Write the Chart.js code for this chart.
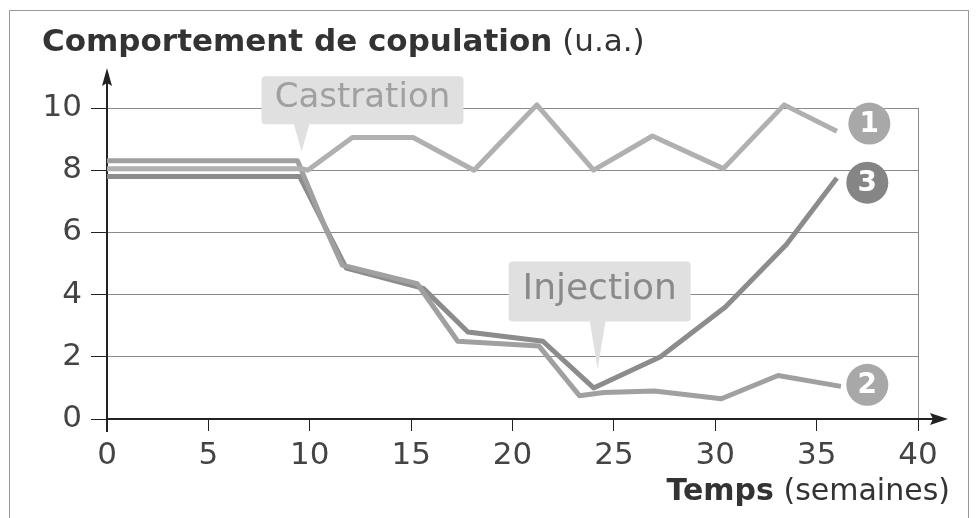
<!DOCTYPE html>
<html>
<head>
<meta charset="utf-8">
<script src="https://cdn.jsdelivr.net/npm/chart.js@4.4.0/dist/chart.umd.min.js"></script>
<style>
html, body { margin: 0; padding: 0; background: #fff; }
#wrap { position: relative; width: 976px; height: 518px; overflow: hidden; }
#frame { position: absolute; left: 9px; top: 10px; width: 958px; height: 540px; border: 1px solid #999; }
canvas { position: absolute; left: 0; top: 0; }
.ttl { position: absolute; font-family: "DejaVu Sans", sans-serif; color: #333; white-space: nowrap; line-height: 1.2; }
.ttl b { font-weight: 700; }
.ttl span { font-weight: 400; }
</style>
</head>
<body>
<div id="wrap">
  <div id="frame"></div>
  <canvas id="chart" width="976" height="518"></canvas>
  <div class="ttl" style="left:42px;top:22px;font-size:31px"><b>Comportement de copulation</b> <span>(u.a.)</span></div>
  <div class="ttl" style="right:26px;top:472px;font-size:30px"><b>Temps</b> <span>(semaines)</span></div>
</div>
<script>
// weeks (x) and behaviour score (y) for each curve
const weeks1 = [0, 9.6, 9.9, 12.1, 15.1, 18.1, 21.2, 24, 26.9, 30.4, 33.4, 36];
const values1 = [8.05, 8.05, 8.0, 9.05, 9.05, 8.0, 10.1, 8.0, 9.1, 8.05, 10.1, 9.25];

const weeks2 = [0, 9.4, 10.8, 11.6, 15.3, 17.3, 21.3, 23.3, 24.5, 27, 30.3, 33.1, 36.2];
const values2 = [8.3, 8.3, 6.1, 4.95, 4.35, 2.5, 2.35, 0.75, 0.85, 0.9, 0.65, 1.4, 1.05];

const weeks3 = [0, 9.5, 10.9, 11.8, 15.6, 17.8, 21.5, 24, 27.3, 30.5, 33.5, 36];
const values3 = [7.8, 7.8, 6.0, 4.85, 4.2, 2.8, 2.5, 1.0, 2.0, 3.6, 5.6, 7.75];

const xTicks = [0, 5, 10, 15, 20, 25, 30, 35, 40];
const yTicks = [0, 2, 4, 6, 8, 10];

// annotation boxes
const noteText = ['Castration', 'Injection'];
const noteX = [12.6, 24.3];
const noteY = [10.25, 4.1];
const noteTipX = [9.6, 24.2];
const noteTipY = [8.6, 1.6];

// circled curve numbers
const circleText = ['1', '2', '3'];
const circleX = [37.6, 37.5, 37.5];
const circleY = [9.5, 1.1, 7.6];

function toPoints(xs, ys) {
    return xs.map((x, i) => ({ x: x, y: ys[i] }));
}

const arrows = {
    id: 'arrows',
    afterDraw(chart) {
        const c = chart.ctx;
        const a = chart.chartArea;
        const y0 = chart.scales.y.getPixelForValue(0);
        const x0 = chart.scales.x.getPixelForValue(0);
        c.save();
        c.strokeStyle = '#222';
        c.fillStyle = '#222';
        c.lineWidth = 2;
        c.beginPath();
        c.moveTo(a.right, y0); c.lineTo(936, y0);
        c.moveTo(x0, a.top); c.lineTo(x0, 82);
        c.moveTo(x0, y0); c.lineTo(x0, y0 + 13);
        c.stroke();
        c.beginPath();
        c.moveTo(948, y0); c.lineTo(930, y0 - 6); c.lineTo(933, y0); c.lineTo(930, y0 + 6); c.closePath();
        c.fill();
        c.beginPath();
        c.moveTo(x0, 68); c.lineTo(x0 - 5, 86); c.lineTo(x0, 83); c.lineTo(x0 + 5, 86); c.closePath();
        c.fill();
        c.restore();
    }
};

const notes = {
    id: 'notes',
    afterDatasetsDraw(chart) {
        const c = chart.ctx;
        const sx = chart.scales.x, sy = chart.scales.y;
        c.save();
        // boxes with pointer
        const sizes = [[202, 48], [182, 60]];
        noteText.forEach((t, i) => {
            const cx = sx.getPixelForValue(noteX[i]);
            const cy = sy.getPixelForValue(noteY[i]);
            const w = sizes[i][0], h = sizes[i][1];
            const tx = sx.getPixelForValue(noteTipX[i]);
            const ty = sy.getPixelForValue(noteTipY[i]);
            c.fillStyle = '#e0e0e0';
            c.beginPath();
            c.roundRect(cx - w / 2, cy - h / 2, w, h, 4);
            c.fill();
            c.beginPath();
            c.moveTo(tx - 8, cy + h / 2 - 1);
            c.lineTo(tx + 8, cy + h / 2 - 1);
            c.lineTo(tx, ty);
            c.closePath();
            c.fill();
            c.fillStyle = i === 0 ? '#a0a0a0' : '#8a8a8a';
            c.font = (i === 0 ? '34px' : '36px') + ' "DejaVu Sans", sans-serif';
            c.textAlign = 'center';
            c.textBaseline = 'middle';
            c.fillText(t, cx, cy - 2);
        });
        // circled numbers
        circleText.forEach((t, i) => {
            const cx = sx.getPixelForValue(circleX[i]);
            const cy = sy.getPixelForValue(circleY[i]);
            c.fillStyle = t === '3' ? '#858585' : '#a8a8a8';
            c.beginPath();
            c.arc(cx, cy, 21, 0, Math.PI * 2);
            c.fill();
            c.fillStyle = '#fff';
            c.font = 'bold 28px "DejaVu Sans", sans-serif';
            c.textAlign = 'center';
            c.textBaseline = 'middle';
            c.fillText(t, cx, cy + 1);
        });
        c.restore();
    }
};

const ctx = document.getElementById('chart').getContext('2d');
new Chart(ctx, {
    type: 'scatter',
    data: {
        datasets: [
            { data: toPoints(weeks1, values1), borderColor: '#b0b0b0' },
            { data: toPoints(weeks2, values2), borderColor: '#a0a0a0' },
            { data: toPoints(weeks3, values3), borderColor: '#8c8c8c' }
        ].map(d => Object.assign(d, {
            showLine: true,
            borderWidth: 5,
            pointRadius: 0,
            tension: 0,
            clip: 10,
            borderJoinStyle: 'round'
        }))
    },
    options: {
        responsive: false,
        animation: false,
        devicePixelRatio: 1,
        layout: { padding: { left: 0, top: 108, right: 58, bottom: 35 } },
        plugins: { legend: { display: false }, tooltip: { enabled: false } },
        scales: {
            x: {
                type: 'linear',
                min: xTicks[0],
                max: xTicks[xTicks.length - 1],
                afterBuildTicks: s => { s.ticks = xTicks.map(v => ({ value: v })); },
                afterFit: s => { s.height = 64; },
                border: { color: '#222', width: 2 },
                grid: {
                    color: g => (g.tick && g.tick.value === 40) ? '#8a8a8a' : 'rgba(0,0,0,0)',
                    tickColor: '#222',
                    tickLength: 12,
                    lineWidth: 1
                },
                ticks: {
                    color: '#444',
                    padding: 6,
                    maxRotation: 0,
                    font: { family: 'DejaVu Sans', size: 31, weight: '400' }
                }
            },
            y: {
                min: yTicks[0],
                max: yTicks[yTicks.length - 1],
                afterBuildTicks: s => { s.ticks = yTicks.map(v => ({ value: v })); },
                afterFit: s => { s.width = 107; },
                border: { color: '#222', width: 2 },
                grid: {
                    color: '#8a8a8a',
                    tickColor: '#222',
                    tickLength: 16,
                    lineWidth: 1
                },
                ticks: {
                    color: '#444',
                    padding: 9,
                    font: { family: 'DejaVu Sans', size: 31, weight: '400' }
                }
            }
        }
    },
    plugins: [arrows, notes]
});
</script>
</body>
</html>
